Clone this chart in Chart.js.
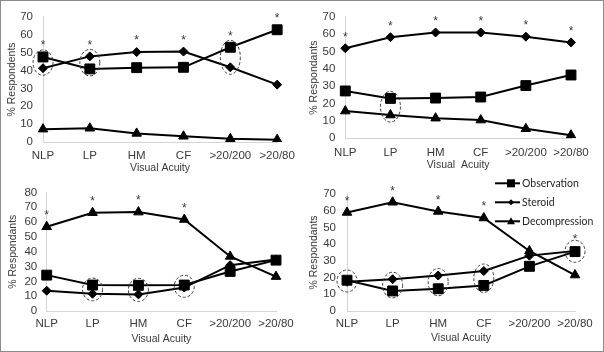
<!DOCTYPE html>
<html>
<head>
<meta charset="utf-8">
<script src="https://cdn.jsdelivr.net/npm/chart.js@4.4.1/dist/chart.umd.min.js"></script>
<style>
  body { margin: 0; background: #fff; }
  #wrap { position: relative; width: 604px; height: 352px; background: #fff; }
  .panel { position: absolute; width: 302px; height: 176px; }
  #frame { position: absolute; left: 0; top: 0; width: 602px; height: 350px; border: 1px solid #8c8c8c; pointer-events: none; }
</style>
</head>
<body>
<div id="wrap">
  <div class="panel" style="left:0;top:0"><canvas id="chartA"></canvas></div>
  <div class="panel" style="left:302px;top:0"><canvas id="chartB"></canvas></div>
  <div class="panel" style="left:0;top:176px"><canvas id="chartC"></canvas></div>
  <div class="panel" style="left:302px;top:176px"><canvas id="chartD"></canvas></div>
  <div id="frame"></div>
</div>
<script>
// categorias (eje x) comunes a los cuatro paneles
const visualAcuity = ['NLP', 'LP', 'HM', 'CF', '>20/200', '>20/80'];
const seriesNames = ['Observation', 'Steroid', 'Decompression'];

// panel superior izquierdo
const obsA = [47.6, 40.9, 41.6, 41.8, 53.0, 62.8];
const sterA = [41.3, 47.9, 50.3, 50.6, 41.8, 32.1];
const decA = [7.2, 7.7, 4.8, 3.2, 1.8, 1.3];
const starsA = [0, 1, 2, 3, 4, 5];
const circlesA = [0, 1, 4];

// panel superior derecho
const obsB = [27.3, 23.0, 23.2, 23.8, 30.4, 36.5];
const sterB = [51.9, 58.3, 61.0, 61.0, 58.6, 55.3];
const decB = [15.7, 13.4, 11.6, 10.5, 5.5, 1.8];
const starsB = [0, 1, 2, 3, 4, 5];
const circlesB = [1];

// panel inferior izquierdo
const obsC = [24.2, 17.5, 17.3, 17.5, 26.7, 34.3];
const sterC = [13.7, 11.6, 11.2, 15.8, 30.9, 34.7];
const decC = [56.8, 66.3, 66.7, 61.7, 36.8, 23.2];
const starsC = [0, 1, 2, 3];
const circlesC = [1, 2, 3];

// panel inferior derecho
const obsD = [18.4, 12.0, 13.3, 15.3, 26.7, 35.5];
const sterD = [17.5, 19.0, 21.2, 23.9, 33.1, 35.9];
const decD = [58.9, 65.0, 59.5, 55.6, 35.9, 21.5];
const starsD = [0, 1, 2, 3, 5];
const circlesD = [0, 1, 2, 3, 5];

const TXT = '#3a3a3a';
const FONT = '"Liberation Sans", Arial, sans-serif';

// asteriscos y circulos punteados sobre los puntos
const marksPlugin = {
  id: 'marks',
  afterDatasetsDraw(chart, args, opts) {
    const { ctx, scales: { x, y } } = chart;
    const ds = chart.data.datasets;
    ctx.save();
    ctx.fillStyle = TXT;
    ctx.font = '12px ' + FONT;
    ctx.textAlign = 'center';
    ctx.textBaseline = 'middle';
    (opts.stars || []).forEach(i => {
      const top = Math.max(...ds.map(d => d.data[i]));
      ctx.fillText('*', x.getPixelForValue(i), y.getPixelForValue(top) - 11);
    });
    ctx.setLineDash([3, 2]);
    ctx.lineWidth = 1;
    ctx.strokeStyle = '#3a3a3a';
    (opts.circles || []).forEach(i => {
      const ys = opts.circleSeries.map(s => y.getPixelForValue(ds[s].data[i]));
      const lo = Math.min(...ys), hi = Math.max(...ys);
      const ry = Math.max((hi - lo) / 2 + 7, 11);
      ctx.beginPath();
      ctx.ellipse(x.getPixelForValue(i), (lo + hi) / 2, 10, ry, 0, 0, Math.PI * 2);
      ctx.stroke();
    });
    ctx.restore();
  }
};

function marker(ctx, style, cx, cy, r) {
  ctx.beginPath();
  if (style === 'rect') {
    ctx.rect(cx - r, cy - r, 2 * r, 2 * r);
  } else if (style === 'rectRot') {
    ctx.moveTo(cx, cy - r); ctx.lineTo(cx + r, cy); ctx.lineTo(cx, cy + r); ctx.lineTo(cx - r, cy);
  } else {
    ctx.moveTo(cx, cy - r); ctx.lineTo(cx + r, cy + r * 0.75); ctx.lineTo(cx - r, cy + r * 0.75);
  }
  ctx.closePath();
  ctx.fill();
}

// leyenda dentro del area del grafico (panel inferior derecho)
const sideLegend = {
  id: 'sideLegend',
  afterDraw(chart, args, opts) {
    if (!opts.show) return;
    const ctx = chart.ctx;
    const sizes = [4, 3, 4];
    ctx.save();
    ctx.font = '10.5px Lato, sans-serif';
    ctx.textBaseline = 'middle';
    chart.data.datasets.forEach((d, k) => {
      const yy = opts.y + k * opts.gap;
      ctx.strokeStyle = '#000';
      ctx.lineWidth = 2;
      ctx.beginPath(); ctx.moveTo(opts.x, yy); ctx.lineTo(opts.x + 25, yy); ctx.stroke();
      ctx.fillStyle = '#000';
      marker(ctx, d.pointStyle, opts.x + 16, yy, sizes[k]);
      ctx.fillStyle = '#262626';
      ctx.fillText(d.label, opts.x + 27, yy);
    });
    ctx.restore();
  }
};

function makePanel(id, obs, ster, dec, cfg) {
  const H = 176, W = 302;
  const ctx = document.getElementById(id).getContext('2d');
  const a = cfg.area;
  return new Chart(ctx, {
    type: 'line',
    data: {
      labels: visualAcuity,
      datasets: [
        { label: seriesNames[0], data: obs, pointStyle: 'rect', pointRadius: 7 },
        { label: seriesNames[1], data: ster, pointStyle: 'rectRot', pointRadius: 4.5 },
        { label: seriesNames[2], data: dec, pointStyle: 'triangle', pointRadius: 5.5 }
      ].map(d => Object.assign(d, {
        borderColor: '#000', backgroundColor: '#000', borderWidth: 2,
        pointBorderWidth: 1, pointBorderColor: '#000', pointBackgroundColor: '#000', tension: 0
      }))
    },
    options: {
      responsive: true,
      maintainAspectRatio: false,
      animation: false,
      devicePixelRatio: 1,
      layout: { padding: { top: a.t, right: W - a.r, left: 0, bottom: 0 } },
      plugins: {
        legend: { display: false },
        tooltip: { enabled: false },
        marks: { stars: cfg.stars, circles: cfg.circles, circleSeries: cfg.circleSeries },
        sideLegend: cfg.legend || { show: false }
      },
      scales: {
        x: {
          offset: false,
          grid: { display: false, drawTicks: false },
          border: { display: true, color: '#d4d4d4', width: 1 },
          ticks: { color: TXT, font: { family: FONT, size: 11.5 }, padding: a.labelY - a.b - 6.9, maxRotation: 0, autoSkip: false },
          title: { display: true, text: cfg.xTitle, color: TXT, font: { family: FONT, size: 10.5 },
                   padding: { top: 0, bottom: (H - a.titleY) - 6.3 } },
          afterFit(scale) { scale.height = H - a.b; }
        },
        y: {
          min: 0, max: cfg.yMax,
          grid: { display: false, drawTicks: false },
          border: { display: true, color: '#d4d4d4', width: 1 },
          ticks: { stepSize: 10, autoSkip: false, color: TXT, font: { family: FONT, size: 11.5 }, padding: a.tickPad },
          title: { display: true, text: cfg.yTitle, color: TXT, font: { family: FONT, size: 10.5 },
                   padding: { top: a.yTitleX - 6.3, bottom: 0 } },
          afterFit(scale) { scale.width = a.l; }
        }
      }
    },
    plugins: [marksPlugin, sideLegend]
  });
}

makePanel('chartA', obsA, sterA, decA, {
  yMax: 70, yTitle: '% Respondents', xTitle: 'Visual Acuity',
  stars: starsA, circles: circlesA, circleSeries: [0, 1],
  area: { l: 43, r: 278, t: 11.7, b: 142, labelY: 156, titleY: 168, yTitleX: 12, tickPad: 10 }
});
makePanel('chartB', obsB, sterB, decB, {
  yMax: 70, yTitle: '% Respondants', xTitle: 'Visual  Acuity',
  stars: starsB, circles: circlesB, circleSeries: [0, 2],
  area: { l: 43.3, r: 269, t: 11.7, b: 138.3, labelY: 153, titleY: 165, yTitleX: 12, tickPad: 10 }
});
makePanel('chartC', obsC, sterC, decC, {
  yMax: 80, yTitle: '% Respondants', xTitle: 'Visual Acuity',
  stars: starsC, circles: circlesC, circleSeries: [0, 1],
  area: { l: 46.7, r: 276, t: 8.3, b: 135, labelY: 148, titleY: 163, yTitleX: 13, tickPad: 9.5 }
});
makePanel('chartD', obsD, sterD, decD, {
  yMax: 70, yTitle: '% Respondants', xTitle: 'Visual Acuity',
  stars: starsD, circles: circlesD, circleSeries: [0, 1],
  area: { l: 45, r: 273, t: 8.3, b: 135, labelY: 148, titleY: 162, yTitleX: 12, tickPad: 11 },
  legend: { show: true, x: 193, y: 7.3, gap: 19 }
});
</script>
</body>
</html>
